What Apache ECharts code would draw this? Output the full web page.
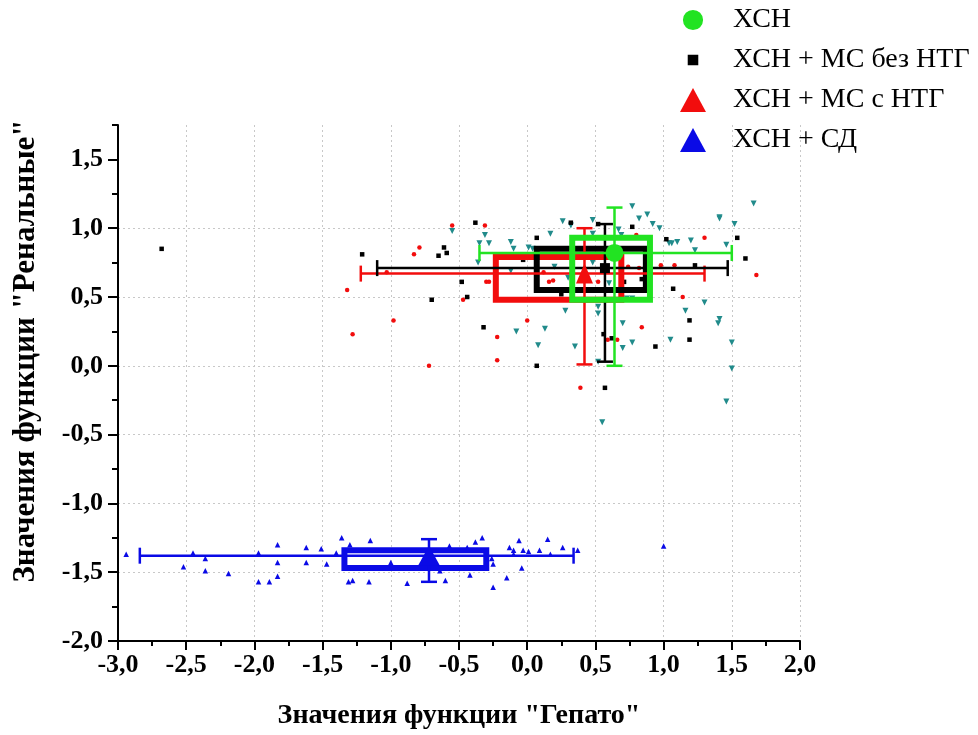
<!DOCTYPE html>
<html>
<head>
<meta charset="utf-8">
<title>Гепато / Ренальные</title>
<script src="https://cdn.jsdelivr.net/npm/echarts@6/dist/echarts.min.js"></script>
<style>
  html, body { margin: 0; background: #fff; }
  #chart { width: 978px; height: 735px; }
</style>
</head>
<body>
<div id="chart"></div>
<script>
// группы пациентов
const groupNames = ['ХСН', 'ХСН + МС без НТГ', 'ХСН + МС с НТГ', 'ХСН + СД'];

// отдельные пациенты: [Гепато, Ренальные]
const pointsXCH = [
  [-0.55, 0.98], [-0.31, 0.95], [-0.35, 0.89], [-0.28, 0.89], [-0.36, 0.75], [-0.12, 0.90],
  [-0.10, 0.85], [0.01, 0.86], [0.04, 0.85], [0.17, 0.96], [0.26, 1.05], [0.32, 1.02],
  [0.48, 1.06], [-0.12, 0.69], [0.30, 0.64], [0.28, 0.40], [0.13, 0.27], [-0.08, 0.25],
  [0.08, 0.15], [0.35, 0.14], [0.48, 0.75], [0.52, 0.43], [0.52, 0.38], [0.77, 1.16],
  [0.82, 1.07], [0.88, 1.10], [0.92, 1.03], [0.97, 1.00], [0.67, 0.99], [0.69, 0.95],
  [0.48, 0.96], [1.04, 0.89], [1.06, 0.89], [1.10, 0.90], [1.20, 0.91], [1.23, 0.84],
  [1.41, 1.08], [1.41, 1.07], [1.52, 1.03], [1.46, 0.88], [1.66, 1.18], [1.30, 0.46],
  [1.16, 0.40], [1.41, 0.34], [1.40, 0.31], [0.70, 0.31], [0.77, 0.17], [0.70, 0.13],
  [1.05, 0.19], [1.50, 0.17], [1.50, -0.02], [1.46, -0.26], [0.55, -0.41], [0.73, 0.49],
  [0.77, 0.49], [0.52, 0.03], [0.40, 0.80], [0.60, 0.60], [0.75, 0.55], [0.20, 0.72]
];
const pointsNoNTG = [
  [-2.68, 0.85], [-1.21, 0.81], [-0.38, 1.04], [-0.61, 0.86], [-0.59, 0.82], [-0.65, 0.80],
  [-0.48, 0.61], [-0.44, 0.50], [-0.70, 0.48], [-0.32, 0.28], [0.07, 0.00], [0.07, 0.93],
  [-0.03, 0.77], [0.32, 1.04], [0.52, 1.03], [0.25, 0.52], [1.02, 0.92], [0.77, 1.01],
  [1.54, 0.93], [1.60, 0.78], [1.23, 0.73], [0.84, 0.63], [1.07, 0.56], [1.19, 0.33],
  [1.19, 0.19], [0.94, 0.14], [0.56, 0.23], [0.62, 0.20], [0.57, -0.16], [0.71, 0.61]
];
const pointsWithNTG = [
  [-0.55, 1.02], [-0.31, 1.02], [-0.79, 0.86], [-0.83, 0.81], [-1.03, 0.68], [-1.32, 0.55],
  [-0.47, 0.48], [-0.30, 0.61], [-0.28, 0.61], [0.16, 0.61], [0.19, 0.62], [-0.98, 0.33],
  [0.00, 0.33], [-1.28, 0.23], [-0.22, 0.21], [-0.22, 0.04], [-0.72, 0.00], [0.39, -0.16],
  [0.12, 0.68], [1.30, 0.93], [1.68, 0.66], [1.14, 0.50], [0.84, 0.28], [0.59, 0.19],
  [0.66, 0.19], [0.98, 0.73], [1.08, 0.73], [0.82, 0.71], [0.74, 0.72], [0.52, 0.61],
  [0.80, 0.95]
];
const pointsSD = [
  [-2.94, -1.37], [-2.45, -1.36], [-2.52, -1.46], [-2.36, -1.40], [-2.36, -1.49], [-2.19, -1.51],
  [-1.97, -1.36], [-1.97, -1.57], [-1.89, -1.57], [-1.83, -1.53], [-1.83, -1.30], [-1.83, -1.43],
  [-1.62, -1.32], [-1.62, -1.43], [-1.51, -1.33], [-1.47, -1.44], [-1.40, -1.36], [-1.36, -1.25],
  [-1.31, -1.57], [-1.30, -1.30], [-1.15, -1.27], [-1.28, -1.56], [-1.16, -1.57], [-1.00, -1.43],
  [-0.88, -1.58], [-0.64, -1.49], [-0.60, -1.56], [-0.57, -1.31], [-0.42, -1.52], [-0.38, -1.28],
  [-0.33, -1.25], [-0.44, -1.32], [-0.25, -1.44], [-0.25, -1.61], [-0.13, -1.32], [-0.15, -1.54],
  [-0.10, -1.34], [-0.03, -1.34], [0.01, -1.35], [-0.06, -1.27], [-0.04, -1.47], [0.09, -1.34],
  [0.15, -1.26], [0.17, -1.37], [0.26, -1.32], [0.37, -1.34], [-0.10, -1.37], [-0.26, -1.40],
  [1.00, -1.31]
];

// сводка по группам (порядок как в groupNames)
const meanX = [0.64, 0.57, 0.42, -0.72];
const meanY = [0.82, 0.71, 0.67, -1.38];
const boxX = [[0.33, 0.90], [0.07, 0.87], [-0.23, 0.69], [-1.34, -0.30]];
const boxY = [[0.48, 0.93], [0.55, 0.85], [0.48, 0.79], [-1.47, -1.34]];
const errX = [[-0.35, 1.50], [-1.10, 1.47], [-1.22, 1.30], [-2.84, 0.34]];
const errY = [[0.00, 1.15], [0.03, 1.03], [0.01, 1.00], [-1.57, -1.26]];

// подписи осей
const xTicks = [-3, -2.5, -2, -1.5, -1, -0.5, 0, 0.5, 1, 1.5, 2];
const yTicks = [-2, -1.5, -1, -0.5, 0, 0.5, 1, 1.5];

const colors = ['#22e322', '#000000', '#f20d0d', '#0a0ae6'];
const serif = '"Liberation Serif", "DejaVu Serif", serif';
const fmt = v => v.toFixed(1).replace('.', ',');

const chart = echarts.init(document.getElementById('chart'));

function boxSeries(i) {
  return {
    type: 'custom',
    name: 'box' + i,
    silent: true,
    z: 3,
    data: [[boxX[i][0], boxX[i][1], boxY[i][0], boxY[i][1]]],
    encode: { x: [0, 1], y: [2, 3] },
    renderItem: (params, api) => {
      const a = api.coord([api.value(0), api.value(3)]);
      const b = api.coord([api.value(1), api.value(2)]);
      return {
        type: 'rect',
        shape: { x: a[0], y: a[1], width: b[0] - a[0], height: b[1] - a[1] },
        style: { fill: 'none', stroke: colors[i], lineWidth: 6 }
      };
    }
  };
}

function errSeries(i) {
  const cap = 8;
  return {
    type: 'custom',
    name: 'err' + i,
    silent: true,
    z: 3,
    data: [[meanX[i], meanY[i], errX[i][0], errX[i][1], errY[i][0], errY[i][1]]],
    encode: { x: [2, 3], y: [4, 5] },
    renderItem: (params, api) => {
      const mx = api.value(0), my = api.value(1);
      const l = api.coord([api.value(2), my]);
      const r = api.coord([api.value(3), my]);
      const b = api.coord([mx, api.value(4)]);
      const t = api.coord([mx, api.value(5)]);
      const style = { stroke: colors[i], lineWidth: 2.5 };
      const seg = (x1, y1, x2, y2) => ({ type: 'line', shape: { x1, y1, x2, y2 }, style });
      return {
        type: 'group',
        children: [
          seg(l[0], l[1], r[0], r[1]),
          seg(l[0], l[1] - cap, l[0], l[1] + cap),
          seg(r[0], r[1] - cap, r[0], r[1] + cap),
          seg(t[0], t[1], b[0], b[1]),
          seg(t[0] - cap, t[1], t[0] + cap, t[1]),
          seg(b[0] - cap, b[1], b[0] + cap, b[1])
        ]
      };
    }
  };
}

const meanSymbols = ['circle', 'rect', 'triangle', 'triangle'];
const meanSizes = [18, 10, [17, 20], [22, 20]];

function meanSeries(i) {
  return {
    type: 'scatter',
    name: groupNames[i],
    z: 4,
    symbol: meanSymbols[i],
    symbolSize: meanSizes[i],
    itemStyle: { color: colors[i], opacity: 1 },
    data: [[meanX[i], meanY[i]]]
  };
}

function pointSeries(name, data, symbol, size, color, rotate) {
  return {
    type: 'scatter',
    name: name,
    z: 2,
    symbol: symbol,
    symbolSize: size,
    symbolRotate: rotate || 0,
    itemStyle: { color: color, opacity: 1 },
    data: data
  };
}

// значки легенды с полями, чтобы фигура была меньше ячейки
const pad = 'M0,0h0.01v0.01h-0.01Z M99.99,99.99h0.01v0.01h-0.01Z ';
const circleIcon = 'path://' + pad + 'M50,8 A42,42 0 1,1 49.99,8 Z';
const squareIcon = 'path://' + pad + 'M28,28h44v44h-44Z';

const option = {
  animation: false,
  backgroundColor: '#fff',
  textStyle: { fontFamily: serif },
  grid: { left: 118, right: 178, top: 125, bottom: 94 },
  legend: {
    orient: 'vertical',
    left: 675,
    top: 1,
    itemWidth: 26,
    itemHeight: 24,
    itemGap: 12,
    selectedMode: false,
    textStyle: { fontFamily: serif, fontSize: 28, color: '#000', padding: [0, 0, 0, 22] },
    data: [
      { name: groupNames[0], icon: circleIcon },
      { name: groupNames[1], icon: squareIcon },
      { name: groupNames[2] },
      { name: groupNames[3] }
    ]
  },
  xAxis: {
    type: 'value',
    min: -3,
    max: 2,
    interval: 0.5,
    name: 'Значения функции "Гепато"',
    nameLocation: 'middle',
    nameGap: 61,
    nameTextStyle: { fontFamily: serif, fontSize: 28, fontWeight: 'bold', color: '#000' },
    axisLine: { onZero: false, lineStyle: { color: '#000', width: 2 } },
    axisTick: { length: 9, lineStyle: { color: '#000', width: 2 } },
    minorTick: { show: true, splitNumber: 2, length: 5, lineStyle: { color: '#000', width: 2 } },
    axisLabel: {
      margin: 11,
      fontFamily: serif, fontSize: 26, fontWeight: 'bold', color: '#000',
      customValues: xTicks,
      formatter: fmt
    },
    splitLine: { show: true, showMinLine: false, lineStyle: { color: '#c8c8c8', type: [2, 3], width: 1 } }
  },
  yAxis: [
    {
      type: 'value',
      min: -2,
      max: 1.75,
      interval: 0.5,
      name: 'Значения функции "Ренальные"',
      nameLocation: 'middle',
      nameGap: 77,
      nameTextStyle: {
        fontFamily: serif, fontSize: 31, fontWeight: 'bold', color: '#000',
        padding: [0, 0, 0, 64]
      },
      axisLine: { show: true, onZero: false, lineStyle: { color: '#000', width: 2 } },
      axisTick: { show: true, length: 10, customValues: yTicks, lineStyle: { color: '#000', width: 2 } },
      axisLabel: {
        margin: 15,
        fontFamily: serif, fontSize: 26, fontWeight: 'bold', color: '#000',
        customValues: yTicks,
        formatter: fmt
      },
      splitLine: { show: true, showMinLine: false, showMaxLine: false, lineStyle: { color: '#c8c8c8', type: [2, 3], width: 1 } }
    },
    {
      // только мелкие деления
      type: 'value',
      min: -2,
      max: 1.75,
      interval: 0.25,
      position: 'left',
      axisLine: { show: false, onZero: false },
      axisTick: { show: true, length: 6, lineStyle: { color: '#000', width: 2 } },
      axisLabel: { show: false },
      splitLine: { show: false }
    }
  ],
  series: [
    pointSeries('ХСН, пациенты', pointsXCH, 'triangle', 6, '#218b8b', 180),
    pointSeries('ХСН + МС без НТГ, пациенты', pointsNoNTG, 'rect', 4.5, '#000'),
    pointSeries('ХСН + МС с НТГ, пациенты', pointsWithNTG, 'circle', 4.5, '#f20d0d'),
    pointSeries('ХСН + СД, пациенты', pointsSD, 'triangle', 5.5, '#0a0ae6'),
    boxSeries(3), errSeries(3),
    boxSeries(2), boxSeries(1), errSeries(2), errSeries(1),
    boxSeries(0), errSeries(0),
    meanSeries(0), meanSeries(1), meanSeries(2), meanSeries(3)
  ]
};

chart.setOption(option);
</script>
</body>
</html>
